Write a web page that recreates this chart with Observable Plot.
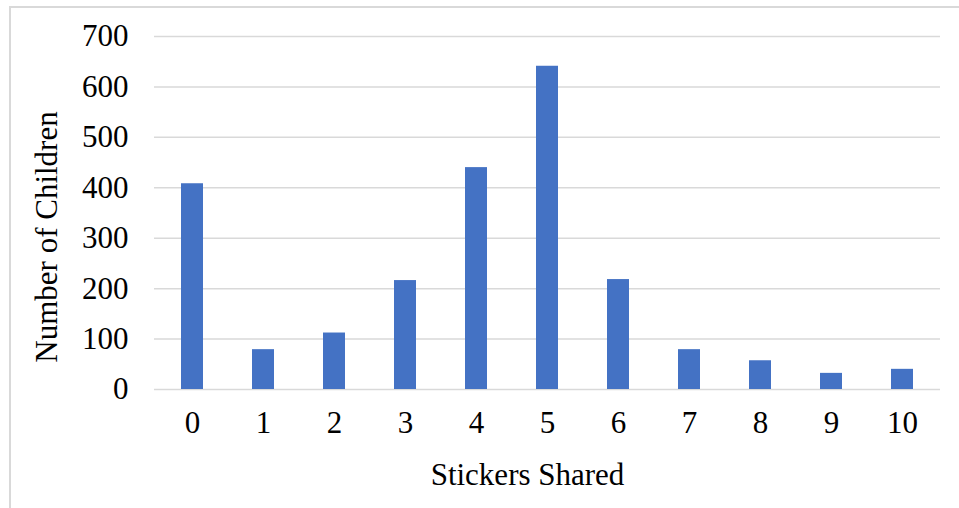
<!DOCTYPE html>
<html>
<head>
<meta charset="utf-8">
<script src="https://cdn.jsdelivr.net/npm/d3@7"></script>
<script src="https://cdn.jsdelivr.net/npm/@observablehq/plot@0.6"></script>
<style>
  html, body { margin: 0; padding: 0; background: #fff; }
  #wrap { position: relative; width: 959px; height: 508px; overflow: hidden; }
  #frame { position: absolute; left: 9px; top: 6px; width: 1000px; height: 600px;
           border: 2px solid #d9d9d9; box-sizing: border-box; }
  #chart { position: absolute; left: 0; top: 0; }
</style>
</head>
<body>
<div id="wrap"><div id="frame"></div><div id="chart"></div></div>
<script>
// Number of stickers each child shared, and how many children shared that many
const stickers = ["0", "1", "2", "3", "4", "5", "6", "7", "8", "9", "10"];
const children = [408, 79, 112, 216, 440, 641, 218, 79, 57, 32, 40];
const yTicks = [0, 100, 200, 300, 400, 500, 600, 700];
const xTitle = "Stickers Shared";
const yTitle = "Number of Children";

const rows = stickers.map((s, i) => ({stickers: s, children: children[i]}));

const font = "'Liberation Serif', 'Times New Roman', serif";

const chart = Plot.plot({
  width: 959,
  height: 508,
  marginLeft: 154,
  marginRight: 19,
  marginTop: 36,
  marginBottom: 119,
  style: {fontFamily: font, fontSize: "31px", background: "transparent", color: "#000"},
  x: {domain: stickers, paddingInner: 0.69, paddingOuter: 0.345, label: null},
  y: {domain: [0, 700], label: null},
  marks: [
    Plot.gridY(yTicks, {stroke: "#d9d9d9", strokeOpacity: 1, strokeWidth: 1.5}),
    Plot.barY(rows, {x: "stickers", y: "children", fill: "#4472c4"}),
    Plot.axisY(yTicks, {tickSize: 0, tickPadding: 26, fontSize: 31, label: null}),
    Plot.axisX({tickSize: 0, tickPadding: 21, fontSize: 31, label: null}),
    Plot.text([xTitle], {frameAnchor: "bottom", textAnchor: "middle", lineAnchor: "middle",
                         dx: -20, dy: 86, fontSize: 31, text: d => d}),
    Plot.text([yTitle], {frameAnchor: "left", textAnchor: "middle", lineAnchor: "middle",
                         rotate: -90, dx: -107, dy: 24, fontSize: 31, text: d => d})
  ]
});

document.getElementById("chart").appendChild(chart);
</script>
</body>
</html>
